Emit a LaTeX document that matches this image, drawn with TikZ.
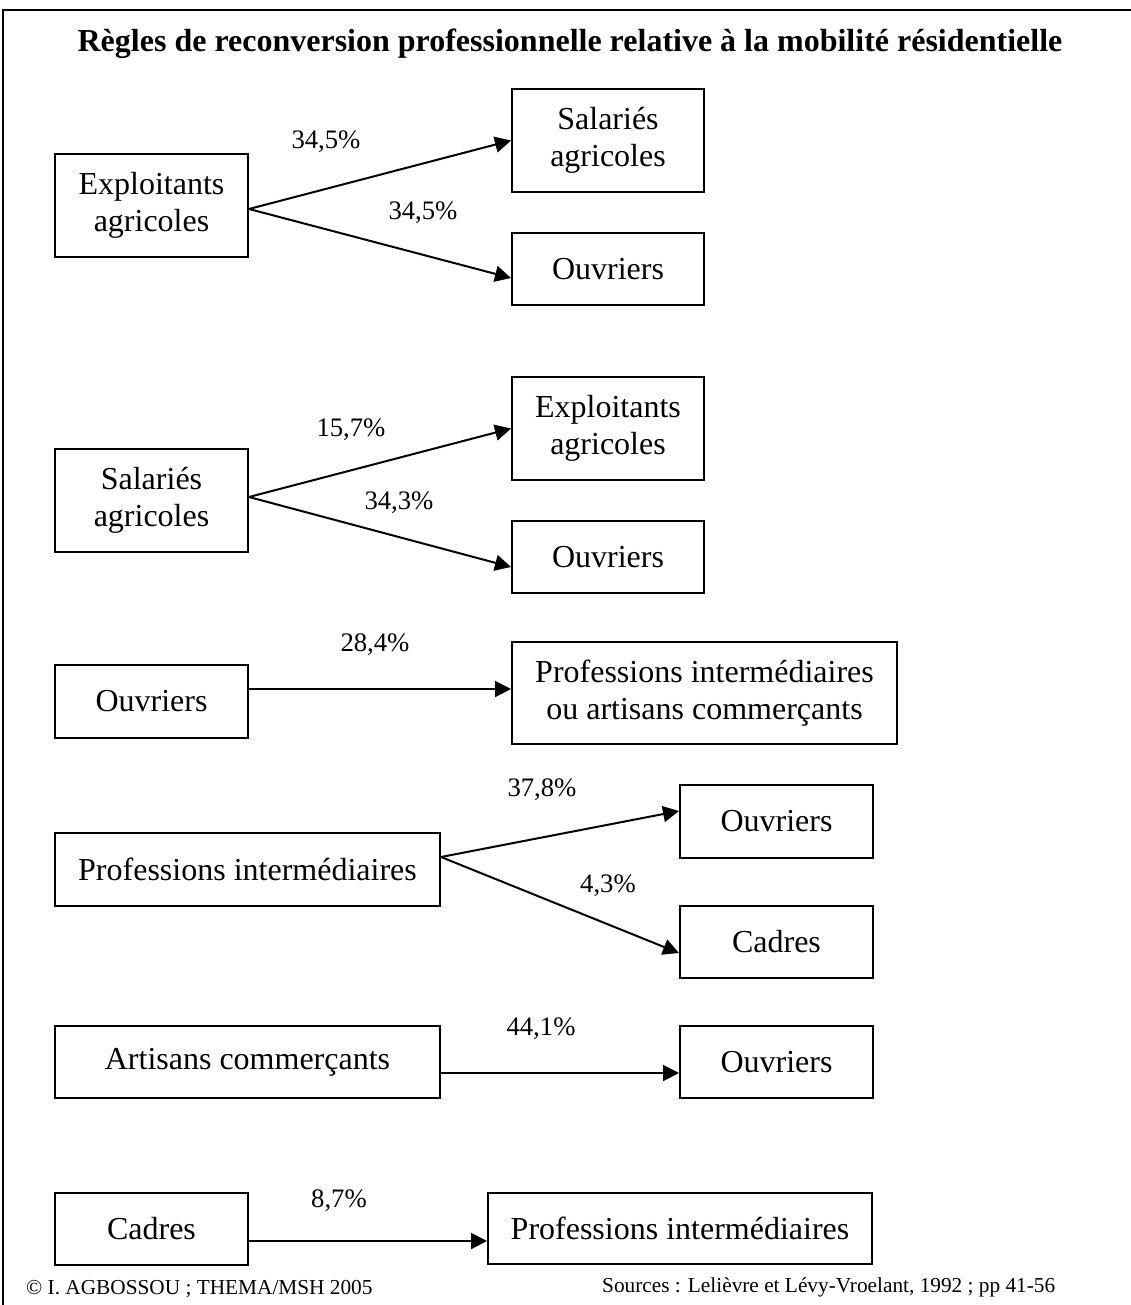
\documentclass[tikz,border=0pt]{standalone}
\usepackage{fontspec}
\setmainfont{Liberation Serif}
\usetikzlibrary{arrows.meta}
\tikzset{
  box/.style={draw=black, line width=2pt, inner sep=0pt, align=center,
    font=\fontsize{32}{36.8}\selectfont},
  pct/.style={inner sep=0pt, font=\fontsize{26.7}{30}\selectfont},
  flow/.style={line width=2pt, -{Triangle[length=16pt,width=16pt]}},
  foot/.style={inner sep=0pt, font=\fontsize{21.3}{24}\selectfont},
  frame/.style={line width=2pt}
}
\begin{document}
\begin{tikzpicture}[x=1pt,y=-1pt]
\useasboundingbox (0,0) rectangle (1131,1305);
% frame (top and left)
\coordinate (fbl) at (3,1305);
\coordinate (ftl) at (3,10);
\coordinate (ftr) at (1131,10);
\draw[frame] (fbl) -- (ftl) -- (ftr);
% title
\node[inner sep=0pt, anchor=base, font=\fontsize{32}{36}\selectfont\bfseries] (title) at (570,52)
  {Règles de reconversion professionnelle relative à la mobilité résidentielle};

% group 1
\node[box, minimum width=193pt, minimum height=103pt] (e1) at (151.5,205.5) {Exploitants\\agricoles};
\node[box, minimum width=192pt, minimum height=103pt] (s1) at (608,140.5) {Salariés\\agricoles};
\node[box, minimum width=192pt, minimum height=72pt] (o1) at (608,269) {Ouvriers};
\draw[flow] ([yshift=-3.5pt]e1.east) -- (s1.west);
\draw[flow] ([yshift=-3.5pt]e1.east) -- ([yshift=-9pt]o1.west);
\node[pct] (l1) at (326,142) {34,5\%};
\node[pct] (l2) at (423,213) {34,5\%};

% group 2
\node[box, minimum width=193pt, minimum height=103pt] (s2) at (151.5,500.5) {Salariés\\agricoles};
\node[box, minimum width=192pt, minimum height=103pt] (e2) at (608,428.5) {Exploitants\\agricoles};
\node[box, minimum width=192pt, minimum height=72pt] (o2) at (608,557) {Ouvriers};
\draw[flow] ([yshift=3.5pt]s2.east) -- (e2.west);
\draw[flow] ([yshift=3.5pt]s2.east) -- ([yshift=-10pt]o2.west);
\node[pct] (l3) at (351,430) {15,7\%};
\node[pct] (l4) at (399,503) {34,3\%};

% group 3
\node[box, minimum width=193pt, minimum height=73pt] (o3) at (151.5,701.5) {Ouvriers};
\node[box, minimum width=385pt, minimum height=102pt] (p3) at (704.5,693) {Professions intermédiaires\\ou artisans commerçants};
\draw[flow] ([yshift=12.5pt]o3.east) -- ([yshift=4pt]p3.west);
\node[pct] (l5) at (375,645) {28,4\%};

% group 4
\node[box, minimum width=385pt, minimum height=73pt] (pi) at (247.5,869.5) {Professions intermédiaires};
\node[box, minimum width=193pt, minimum height=73pt] (o4) at (776.5,821.5) {Ouvriers};
\node[box, minimum width=193pt, minimum height=72pt] (c4) at (776.5,942) {Cadres};
\draw[flow] ([yshift=12.5pt]pi.east) -- ([yshift=10.5pt]o4.west);
\draw[flow] ([yshift=12.5pt]pi.east) -- ([yshift=-11pt]c4.west);
\node[pct] (l6) at (542,790) {37,8\%};
\node[pct] (l7) at (608,886) {4,3\%};

% group 5
\node[box, minimum width=385pt, minimum height=72pt] (ac) at (247.5,1062) {Artisans commerçants};
\node[box, minimum width=193pt, minimum height=72pt] (o5) at (776.5,1062) {Ouvriers};
\draw[flow] ([yshift=-11pt]ac.east) -- ([yshift=-11pt]o5.west);
\node[pct] (l8) at (541,1029) {44,1\%};

% group 6
\node[box, minimum width=193pt, minimum height=72pt] (c6) at (151.5,1229) {Cadres};
\node[box, minimum width=384pt, minimum height=71pt] (p6) at (680,1228.5) {Professions intermédiaires};
\draw[flow] ([yshift=-12pt]c6.east) -- ([yshift=-12.5pt]p6.west);
\node[pct] (l9) at (339,1201) {8,7\%};

% footers
\node[foot, anchor=base west] (fl) at (26,1294) {© I. AGBOSSOU ; THEMA/MSH 2005};
\node[foot, anchor=base west] (fr) at (602,1292) {Sources : Lelièvre et Lévy-Vroelant, 1992 ; pp 41-56};
\end{tikzpicture}
\end{document}
